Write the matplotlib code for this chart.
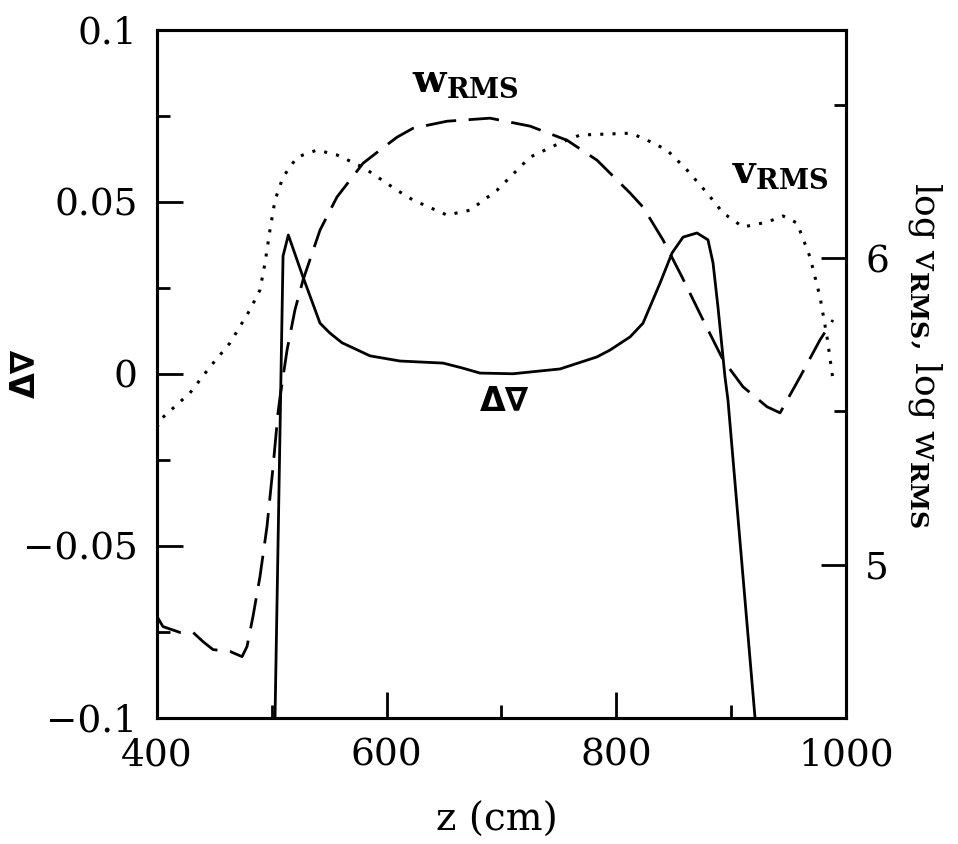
import matplotlib
matplotlib.use("Agg")
import matplotlib.pyplot as plt
from matplotlib.ticker import MultipleLocator

plt.rcParams['font.family'] = ['DejaVu Serif']
plt.rcParams['mathtext.fontset'] = 'dejavuserif'

# Delta nabla (left axis)
z_dn = [502.8, 509.8, 514.4, 527.2, 542.0, 550.7, 561.2, 585.6, 611.7, 649.2,
        665.7, 681.4, 710.1, 751.1, 783.3, 794.7, 812.1, 823.4, 838.2, 848.7,
        858.3, 870.4, 880.0, 884.4, 888.7, 894.8, 897.4, 921.0]
dn = [-0.1, 0.0342, 0.0403, 0.0281, 0.0147, 0.0118, 0.0090, 0.0052, 0.0037, 0.0031,
      0.0017, 0.0002, 0.0, 0.0014, 0.0049, 0.0069, 0.0107, 0.0147, 0.0263, 0.0351,
      0.0397, 0.0409, 0.0389, 0.0322, 0.0194, -0.0009, -0.0076, -0.1]

# log w_RMS (right axis, dashed)
z_w = [400.0, 405.2, 420.0, 431.4, 440.1, 448.8, 463.6, 474.1, 478.4, 483.6,
       489.7, 495.8, 501.1, 505.4, 507.2, 513.3, 520.2, 527.2, 542.0, 556.8,
       579.5, 594.3, 609.1, 623.0, 652.6, 690.1, 725.0, 757.2, 783.3, 812.1,
       823.4, 840.8, 857.4, 875.7, 893.1, 910.5, 931.4, 942.8, 960.2, 977.6, 988.9]
log_w = [4.831, 4.798, 4.779, 4.779, 4.749, 4.723, 4.717, 4.700, 4.733, 4.831,
         4.961, 5.124, 5.319, 5.495, 5.547, 5.700, 5.831, 5.928, 6.091, 6.199,
         6.309, 6.352, 6.394, 6.423, 6.446, 6.456, 6.430, 6.384, 6.319, 6.212,
         6.166, 6.059, 5.938, 5.798, 5.668, 5.580, 5.515, 5.495, 5.612, 5.733, 5.798]

# log v_RMS (right axis, dotted)
z_v = [400.0, 402.6, 428.7, 446.2, 463.6, 481.0, 489.7, 494.1, 498.4, 502.8,
       509.8, 522.0, 539.4, 556.8, 579.5, 609.1, 623.0, 652.6, 672.7, 696.2,
       725.0, 751.1, 768.5, 812.1, 823.4, 844.3, 861.7, 879.2, 893.1, 910.5,
       931.4, 945.4, 957.6, 968.9, 977.6, 983.7, 988.9]
log_v = [5.446, 5.472, 5.560, 5.645, 5.723, 5.831, 5.896, 5.984, 6.091, 6.189,
         6.264, 6.329, 6.352, 6.336, 6.296, 6.221, 6.189, 6.140, 6.156, 6.221,
         6.329, 6.375, 6.401, 6.407, 6.391, 6.352, 6.287, 6.212, 6.147, 6.101,
         6.117, 6.137, 6.114, 6.003, 5.873, 5.743, 5.603]

fig = plt.figure(figsize=(9.58, 8.44), dpi=100)
ax = fig.add_axes([0.1639, 0.1493, 0.7189, 0.8157])
ax2 = ax.twinx()

ax.plot(z_dn, dn, color='black', lw=2.0, solid_joinstyle='round')
ax2.plot(z_w, log_w, color='black', lw=2.0, dashes=(11, 4.5))
ax2.plot(z_v, log_v, color='black', lw=2.2, dashes=(1, 3))

ax.set_xlim(400, 1000)
ax.set_ylim(-0.1, 0.1)
ax2.set_ylim(4.5, 6.745)

ax.xaxis.set_major_locator(MultipleLocator(200))
ax.xaxis.set_minor_locator(MultipleLocator(100))
ax.yaxis.set_minor_locator(MultipleLocator(0.025))
ax2.yaxis.set_major_locator(MultipleLocator(1))
ax2.yaxis.set_minor_locator(MultipleLocator(0.5))
ax.set_yticks([-0.1, -0.05, 0, 0.05, 0.1])
ax.set_yticklabels(['\u22120.1', '\u22120.05', '0', '0.05', '0.1'])

for a in (ax, ax2):
    for s in a.spines.values():
        s.set_linewidth(2.2)

ax.tick_params(which='both', direction='in', top=False, right=False,
               width=2.0, labelsize=27, pad=14)
ax.tick_params(which='major', length=19)
ax.tick_params(which='minor', length=9.5)
ax2.tick_params(which='both', direction='in', width=2.0, labelsize=27, pad=14)
ax2.tick_params(which='major', length=18)
ax2.tick_params(which='minor', length=9)

ax.set_xlabel('z (cm)', fontsize=28)
ax.xaxis.set_label_coords(0.494, -0.122)
ax.set_ylabel('\u0394\u2207', fontsize=24, fontweight='bold', family=['DejaVu Sans'])
ax.yaxis.set_label_coords(-0.167, 0.5)
ax2.set_ylabel(r'log v$_{\mathbf{RMS}}$, log w$_{\mathbf{RMS}}$', fontsize=26,
               rotation=-90, va='center')
ax2.yaxis.set_label_coords(1.115, 0.527)

ax.text(0.370, 0.909, r'w$_{\mathbf{RMS}}$', transform=ax.transAxes,
        fontsize=28, fontweight='bold', ha='left', va='baseline')
ax.text(0.835, 0.777, r'v$_{\mathbf{RMS}}$', transform=ax.transAxes,
        fontsize=28, fontweight='bold', ha='left', va='baseline')
ax.text(0.469, 0.484, '\u0394\u2207', transform=ax.transAxes,
        fontsize=24, fontweight='bold', family=['DejaVu Sans'],
        ha='left', va='top')

fig.savefig('out.png', dpi=100)
